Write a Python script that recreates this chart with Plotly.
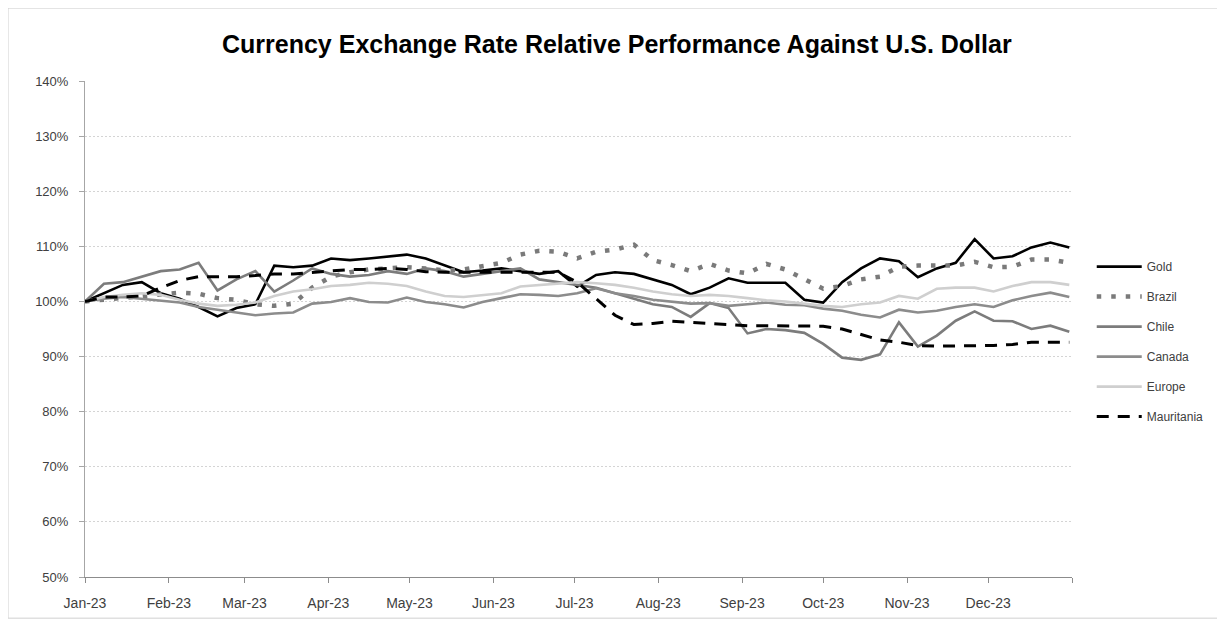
import pandas as pd
import plotly.graph_objects as go

dates = pd.date_range("2023-01-01", periods=53, freq="7D")

gold = [100, 101.5, 103, 103.5, 101.5, 100.5, 99, 97.3, 98.8, 99.5, 106.5, 106.2, 106.5,
        107.8, 107.5, 107.8, 108.2, 108.5, 107.8, 106.5, 105.3, 105.6, 106, 105.5, 105, 105.5,
        102.7, 104.8, 105.3, 105, 104, 103, 101.3, 102.5, 104.2, 103.4, 103.4, 103.4, 100.3,
        99.8, 103.5, 106, 107.8, 107.3, 104.4, 106, 107, 111.3, 107.8, 108.2, 109.8, 110.7, 109.8]
brazil = [100, 100.3, 100.8, 101, 101.3, 101.6, 101.4, 100.6, 100.3, 99.5, 99.2, 99.6, 102.5,
          104.5, 105.3, 105.8, 106, 106.2, 106, 105.6, 105.8, 106.3, 107, 108.5, 109.2, 109,
          107.8, 109, 109.4, 110.3, 107.5, 106.6, 105.5, 106.8, 105.6, 105.1, 106.8, 105.8, 104,
          102.3, 102.8, 104, 104.5, 106.3, 106.5, 106.5, 106.5, 107.2, 106.2, 106.3, 107.6, 107.6, 107]
chile = [100, 103.2, 103.5, 104.5, 105.5, 105.8, 107, 102, 104, 105.5, 101.8, 103.8, 106,
         105, 104.5, 104.8, 105.5, 105, 106, 105.5, 104.5, 105, 105.5, 106, 104, 103.5,
         103, 102.5, 101.5, 100.5, 99.5, 99, 97.2, 99.7, 98.8, 94.2, 95, 94.8, 94.3,
         92.3, 89.8, 89.4, 90.4, 96.2, 91.8, 93.8, 96.5, 98.2, 96.5, 96.4, 95, 95.6, 94.5]
canada = [100, 100.5, 100.8, 100.5, 100.2, 99.8, 99, 98.5, 98, 97.5, 97.8, 98, 99.6,
          99.9, 100.6, 99.9, 99.8, 100.7, 99.9, 99.5, 98.9, 99.9, 100.6, 101.3, 101.2, 101,
          101.5, 102.4, 101.5, 101, 100.3, 100, 99.6, 99.7, 99.2, 99.5, 99.8, 99.4, 99.3,
          98.7, 98.3, 97.6, 97.1, 98.5, 98, 98.3, 99, 99.5, 99, 100.2, 101, 101.6, 100.8]
europe = [100, 100.8, 101.2, 101.5, 101.2, 100.3, 99.6, 99.2, 99.4, 99.8, 101, 101.8, 102.2,
          102.8, 103, 103.4, 103.2, 102.8, 101.8, 101, 100.8, 101.2, 101.5, 102.7, 103, 103.3,
          103.5, 103.3, 103, 102.5, 101.8, 101.3, 101, 101.2, 101, 100.6, 100.2, 100, 99.6,
          99.2, 99, 99.5, 99.8, 101, 100.5, 102.3, 102.5, 102.5, 101.8, 102.8, 103.5, 103.5, 103]
mauritania = [100, 100.8, 100.8, 101, 102.5, 103.8, 104.5, 104.5, 104.5, 104.7, 105, 105, 105.3,
              105.5, 105.8, 105.8, 106, 105.8, 105.4, 105.3, 105.3, 105.4, 105.3, 105.4, 105.4, 105.3,
              103.5, 100.5, 97.5, 95.8, 96, 96.4, 96.2, 96, 95.8, 95.6, 95.6, 95.6, 95.6,
              95.5, 95, 94, 93, 92.6, 92, 91.9, 91.9, 92, 92, 92.2, 92.6, 92.6, 92.6]

tick_dates = ["2023-01-01", "2023-02-01", "2023-03-01", "2023-04-01", "2023-05-01", "2023-06-01",
              "2023-07-01", "2023-08-01", "2023-09-01", "2023-10-01", "2023-11-01", "2023-12-01",
              "2024-01-01"]
tick_labels = ["Jan-23", "Feb-23", "Mar-23", "Apr-23", "May-23", "Jun-23", "Jul-23", "Aug-23",
               "Sep-23", "Oct-23", "Nov-23", "Dec-23", ""]
y_ticks = [50, 60, 70, 80, 90, 100, 110, 120, 130, 140]
y_labels = ["50%", "60%", "70%", "80%", "90%", "100%", "110%", "120%", "130%", "140%"]

series = [
    ("Gold", gold, dict(color="#000000", width=2.6)),
    ("Brazil", brazil, dict(color="#7a7a7a", width=4.5, dash="4.5px,10px")),
    ("Chile", chile, dict(color="#7c7c7c", width=2.6)),
    ("Canada", canada, dict(color="#8c8c8c", width=2.6)),
    ("Europe", europe, dict(color="#cfcfcf", width=2.6)),
    ("Mauritania", mauritania, dict(color="#000000", width=3, dash="12px,9px")),
]

fig = go.Figure()
for name, vals, line in series:
    fig.add_trace(go.Scatter(x=dates, y=vals, name=name, mode="lines", line=line,
                             legendgroup=name))

font = "Liberation Sans"
fig.update_layout(
    width=1225, height=620,
    margin=dict(l=77, r=161, t=73, b=51),
    paper_bgcolor="white", plot_bgcolor="white",
    title=dict(text="<b>Currency Exchange Rate Relative Performance Against U.S. Dollar</b>",
               x=0.497, xanchor="center", y=0.942, yanchor="middle",
               font=dict(family=font, size=25, color="#000000")),
    legend=dict(x=1.020, y=0.655, xanchor="left", yanchor="top",
                font=dict(family=font, size=12, color="#404040"),
                tracegroupgap=11, itemwidth=45, bgcolor="rgba(0,0,0,0)"),
    font=dict(family=font, size=13, color="#404040"),
)
fig.update_xaxes(
    range=["2023-01-01", "2024-01-01"], tickvals=tick_dates, ticktext=tick_labels,
    showgrid=False, showline=True, linecolor="#8c8c8c", linewidth=1,
    ticks="outside", ticklen=5, tickcolor="#8c8c8c", ticklabelstandoff=8,
    tickfont=dict(family=font, size=14, color="#404040"),
)
fig.update_yaxes(
    range=[50, 140], tickvals=y_ticks, ticktext=y_labels,
    showgrid=True, gridcolor="#d4d4d4", griddash="2px,2px", gridwidth=1,
    showline=True, linecolor="#a6a6a6", linewidth=1,
    ticks="outside", ticklen=5, tickcolor="#a6a6a6", ticklabelstandoff=8,
    tickfont=dict(family=font, size=13, color="#404040"), zeroline=False,
)
fig.add_shape(type="rect", xref="paper", yref="paper",
              x0=-0.078, x1=1.153, y0=-0.083, y1=1.147,
              line=dict(color="#d0d0d0", width=1), fillcolor="rgba(0,0,0,0)")

fig.write_html("out.html")
